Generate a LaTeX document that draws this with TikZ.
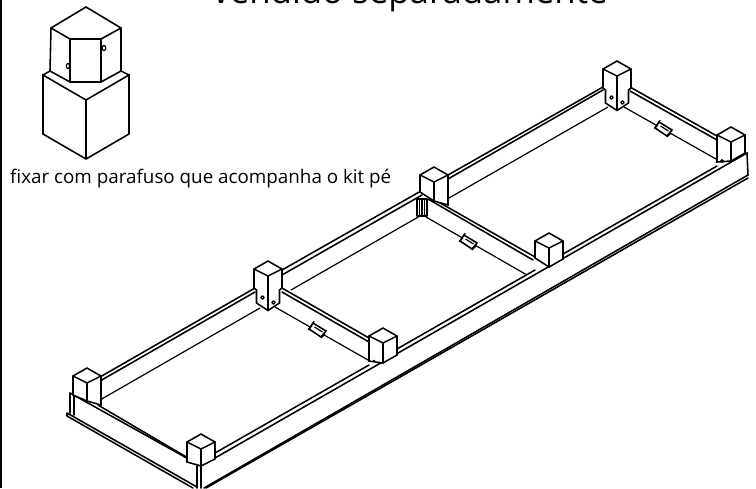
\documentclass[tikz,border=0pt]{standalone}
\usepackage{fontspec}
\setmainfont{Open Sans}
\tikzset{
  ln/.style={line width=1.55pt,line join=miter,line cap=round},
  thinln/.style={line width=1.2pt,line join=round},
  solid white/.style={fill=white}
}
% wooden post: front top corner, then bottom y at left, front, right
\newcommand{\woodpost}[5]{%
  \draw[ln,solid white] (#1,#2-15) -- (#1+14,#2-7) -- (#1+14,#5) -- (#1,#4) -- (#1-14,#3) -- (#1-14,#2-7) -- cycle;
  \draw[ln] (#1-14,#2-7) -- (#1,#2) -- (#1+14,#2-7) (#1,#2) -- (#1,#4);
}
% tall post with stepped lower part and two holes
\newcommand{\tallpost}[2]{%
  \draw[ln,solid white] (#1,#2-15) -- (#1+14,#2-7) -- (#1+14,#2+12) -- (#1+11.5,#2+14) -- (#1+11.5,#2+27) -- (#1,#2+34.5) -- (#1-11.5,#2+27) -- (#1-11.5,#2+14) -- (#1-14,#2+12) -- (#1-14,#2-7) -- cycle;
  \draw[ln] (#1-14,#2-7) -- (#1,#2) -- (#1+14,#2-7);
  \draw[thinln] (#1,#2) -- (#1,#2+34.5);
  \draw[thinln] (#1-5.5,#2+21.5) circle (1.7);
  \draw[thinln] (#1+5.5,#2+26.5) circle (1.7);
}
% small clip on a cross beam
\newcommand{\clipmark}[2]{%
  \draw[ln,solid white] (#1-4,#2-7) -- (#1+9,#2+1) -- (#1+4,#2+7) -- (#1-8,#2-1) -- cycle;
  \draw[thinln] (#1-2.5,#2-3) -- (#1+5.5,#2+2) (#1-9,#2-0.5) -- (#1-5,#2-4) (#1+4,#2+8) -- (#1+8,#2+4) (#1-3,#2-9) -- (#1-4,#2-6);
}
\begin{document}
\begin{tikzpicture}[x=1pt,y=-1pt]
\useasboundingbox (0,0) rectangle (756,488);
\fill[white] (0,0) rectangle (756,488);
\draw[line width=2.2pt] (1,0) -- (1,488);

\node[anchor=base,inner sep=0pt,font=\fontsize{34.8}{34.8}\selectfont] (title) at (410,3) {vendido separadamente};
\node[anchor=base west,inner sep=0pt,font=\fontsize{18.8}{18.8}\selectfont] (note) at (10,183) {fixar com parafuso que acompanha o kit pé};

% kit foot sketch
\draw[ln] (43,75) -- (86,100) -- (129,75) -- (129,134) -- (86,159) -- (43,134) -- cycle (86,100) -- (86,159);
\draw[ln] (43,75) -- (50,71) (129,75) -- (121,71);
\draw[ln] (86,7) -- (121,28) -- (121,71) -- (101,82) -- (70,82) -- (50,71) -- (51,28) -- cycle;
\draw[ln] (51,28) -- (70,39) -- (101,39) -- (121,28) (70,39) -- (70,82) (101,39) -- (101,82);
\draw[thinln] (68,66) ellipse (1.6 and 2.6) (104,48) ellipse (1.8 and 2.6);

% base frame
\draw[ln] (70,393) -- (201,466) -- (747,153) -- (748,175) -- (204,488);
\draw[ln] (206,488) -- (748,178);
\draw[ln] (98,405) -- (188,458);
\draw[ln] (215,453) -- (369,365) (397,349) -- (535,270) (563,254) -- (717,166);
\draw[ln] (70,393) -- (70,413) (74,396) -- (74,415);
\draw[ln] (67,413) -- (197,487) (67,416) -- (193,488) (67,413) -- (67,416);
\draw[ln] (197,466) -- (197,488) (201,466) -- (201,488);

% long back rails
\draw[ln] (100,377) -- (255,288) (100,381) -- (255,292);
\draw[thinln] (100,400) -- (260,308);
\draw[ln] (282,270) -- (421,191) (282,275) -- (422,195);
\draw[thinln] (291,290) -- (420,216);
\draw[ln] (448,175) -- (603,87) (448,179) -- (603,90);
\draw[thinln] (449,198) -- (608,107);

% cross beams
\draw[ln] (282,288) -- (369,338) (282,292) -- (369,342);
\draw[thinln] (275,307) -- (368,360);
\draw[ln] (421,192) -- (535,257) (428,199) -- (533,260);
\draw[thinln] (426,217) -- (527,275);
\draw[ln] (630,87) -- (717,136) (630,91) -- (717,140);
\draw[thinln] (624,107) -- (716,159);

\clipmark{317}{330}
\clipmark{468}{242}
\clipmark{663}{129}

% bracket below middle post
\draw[thinln] (417,199) rectangle (427,216) (419.5,199) -- (419.5,216) (424.5,199) -- (424.5,216) (422,199) -- (422,216);

% posts
\woodpost{87}{383}{395}{401}{405}
\woodpost{201}{449}{462}{466}{459}
\woodpost{383}{343}{361}{363}{355}
\woodpost{434}{182}{192}{201}{205}
\woodpost{549}{248}{258}{267}{259}
\woodpost{731}{142}{162}{161}{153}
\tallpost{268}{276}
\tallpost{617}{76}
\fill (374,361) circle (1.4);
\draw[thinln] (722,161) circle (1.4);
\end{tikzpicture}
\end{document}
